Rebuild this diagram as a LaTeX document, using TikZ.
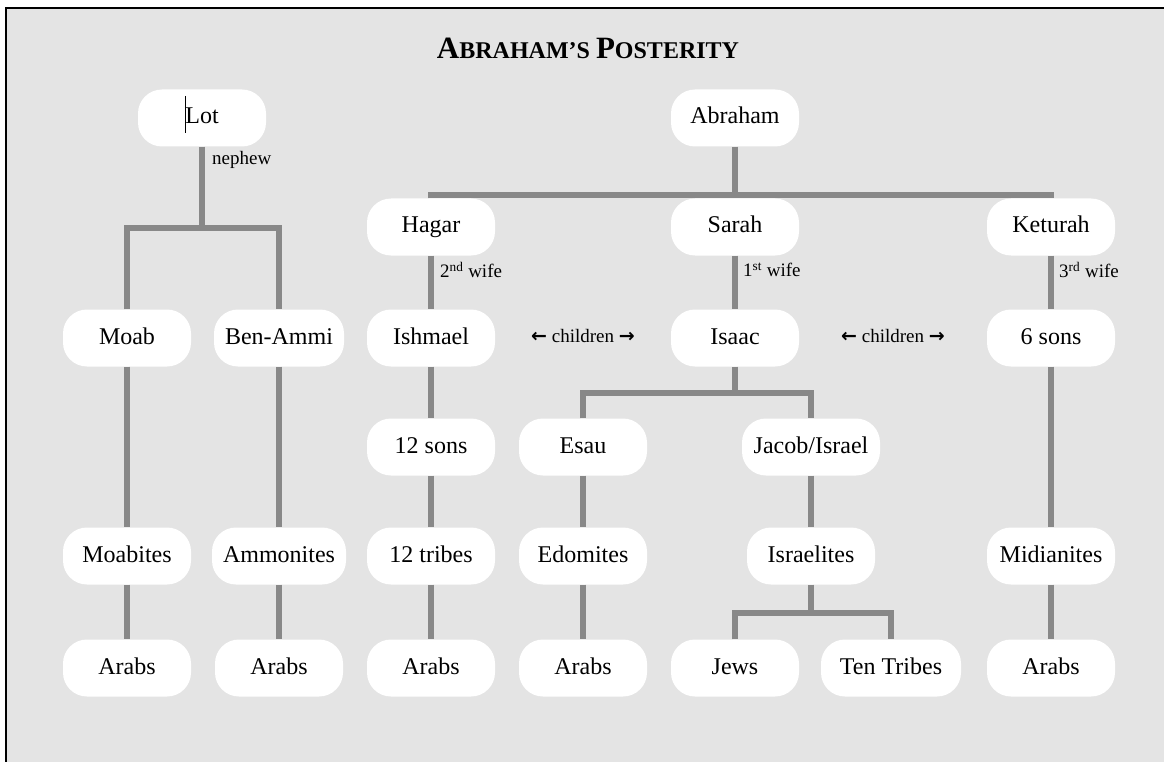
\documentclass[tikz,border=0pt]{standalone}
\usepackage{fontspec}
\setmainfont{Liberation Serif}
\newfontfamily\symfont{DejaVu Sans}
\definecolor{bg}{HTML}{E4E4E4}
\definecolor{ln}{HTML}{888888}
\begin{document}
\begin{tikzpicture}[x=1pt,y=-1pt,
  pill/.style={fill=white, rounded corners=24pt, minimum width=128pt, minimum height=57pt, inner xsep=10pt, inner ysep=0pt, text height=17pt, text depth=5pt, font=\fontsize{24}{28}\selectfont},
  conn/.style={draw=ln, line width=6pt, line join=miter},
  lbl/.style={font=\fontsize{19}{21}\selectfont, anchor=west, inner sep=0pt}]
\useasboundingbox (0,0) rectangle (1164,762);
\clip (0,0) rectangle (1164,762);
\fill[white] (0,0) rectangle (1164,762);
\draw[fill=bg, draw=black, line width=2.5pt] (6,8) rectangle (1180,780);
% title
\node (title) at (588,48) {\bfseries\fontsize{31}{34}\selectfont A\fontsize{24}{28}\selectfont BRAHAM’S \fontsize{31}{34}\selectfont P\fontsize{24}{28}\selectfont OSTERITY};
% row 1
\node[pill] (lot) at (202,118) {Lot};
\node[pill] (abraham) at (735,118) {Abraham};
% row 2
\node[pill] (hagar) at (431,227) {Hagar};
\node[pill] (sarah) at (735,227) {Sarah};
\node[pill] (keturah) at (1051,227) {Keturah};
% row 3
\node[pill] (moab) at (127,338) {Moab};
\node[pill, minimum width=130pt] (benammi) at (279,338) {Ben-Ammi};
\node[pill] (ishmael) at (431,338) {Ishmael};
\node[pill] (isaac) at (735,338) {Isaac};
\node[pill] (sixsons) at (1051,338) {6 sons};
% row 4
\node[pill] (twelvesons) at (431,447) {12 sons};
\node[pill] (esau) at (583,447) {Esau};
\node[pill, minimum width=138pt] (jacob) at (811,447) {Jacob/Israel};
% row 5
\node[pill] (moabites) at (127,556) {Moabites};
\node[pill, minimum width=134pt] (ammonites) at (279,556) {Ammonites};
\node[pill] (tribes) at (431,556) {12 tribes};
\node[pill] (edomites) at (583,556) {Edomites};
\node[pill] (israelites) at (811,556) {Israelites};
\node[pill] (midianites) at (1051,556) {Midianites};
% row 6
\node[pill] (arabsA) at (127,668) {Arabs};
\node[pill] (arabsB) at (279,668) {Arabs};
\node[pill] (arabsC) at (431,668) {Arabs};
\node[pill] (arabsD) at (583,668) {Arabs};
\node[pill] (jews) at (735,668) {Jews};
\node[pill, minimum width=140pt] (tentribes) at (891,668) {Ten Tribes};
\node[pill] (arabsE) at (1051,668) {Arabs};
% junction coordinates
\coordinate (lotj) at (202,228);
\coordinate (abj) at (735,195);
\coordinate (isaacj) at (735,393);
\coordinate (israelj) at (811,613);
% connectors
\draw[conn] (lot.south) -- (lotj);
\draw[conn] (moab.north) |- (lotj) -| (benammi.north);
\draw[conn] (abraham.south) -- (sarah.north);
\draw[conn] (hagar.north) |- (abj) -| (keturah.north);
\draw[conn] (hagar.south) -- (ishmael.north);
\draw[conn] (sarah.south) -- (isaac.north);
\draw[conn] (keturah.south) -- (sixsons.north);
\draw[conn] (isaac.south) -- (isaacj);
\draw[conn] (esau.north) |- (isaacj) -| (jacob.north);
\draw[conn] (ishmael.south) -- (twelvesons.north);
\draw[conn] (twelvesons.south) -- (tribes.north);
\draw[conn] (tribes.south) -- (arabsC.north);
\draw[conn] (moab.south) -- (moabites.north);
\draw[conn] (moabites.south) -- (arabsA.north);
\draw[conn] (benammi.south) -- (ammonites.north);
\draw[conn] (ammonites.south) -- (arabsB.north);
\draw[conn] (esau.south) -- (edomites.north);
\draw[conn] (edomites.south) -- (arabsD.north);
\draw[conn] (jacob.south) -- (israelites.north);
\draw[conn] (israelites.south) -- (israelj);
\draw[conn] (jews.north) |- (israelj) -| (tentribes.north);
\draw[conn] (sixsons.south) -- (midianites.north);
\draw[conn] (midianites.south) -- (arabsE.north);
% labels
\node[lbl] (nephew) at (212,160) {nephew};
\node[lbl] (wife2) at (440,270) {2\textsuperscript{nd} wife};
\node[lbl] (wife1) at (743,270) {1\textsuperscript{st} wife};
\node[lbl] (wife3) at (1059,270) {3\textsuperscript{rd} wife};
\node[lbl, anchor=center] (childrenL) at (583,336) {{\symfont\bfseries ←} children {\symfont\bfseries →}};
\node[lbl, anchor=center] (childrenR) at (893,336) {{\symfont\bfseries ←} children {\symfont\bfseries →}};
% text cursor in Lot
\draw[black, line width=1pt] (185.5,96) -- (185.5,133);
\end{tikzpicture}
\end{document}
